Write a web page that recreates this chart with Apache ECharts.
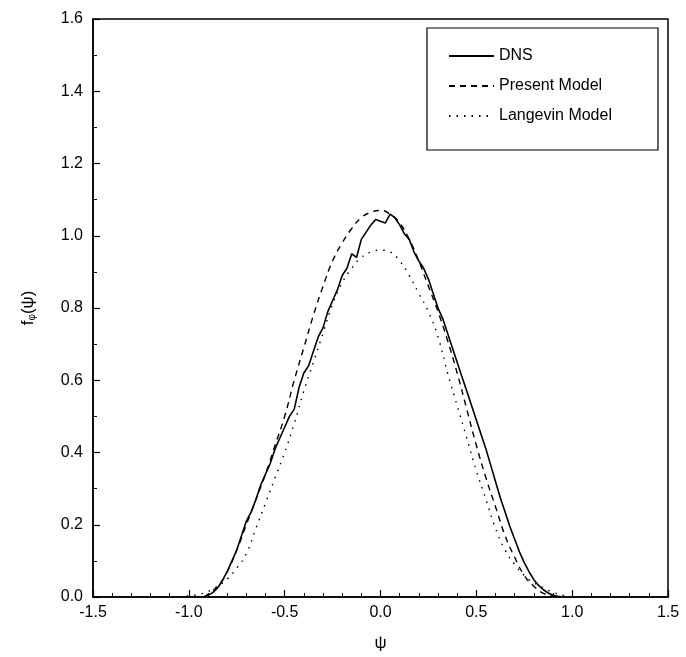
<!DOCTYPE html>
<html>
<head>
<meta charset="utf-8">
<script src="https://cdn.jsdelivr.net/npm/echarts@6/dist/echarts.min.js"></script>
<style>
  html, body { margin: 0; padding: 0; background: #fff; }
  #chart { width: 686px; height: 657px; }
</style>
</head>
<body>
<div id="chart"></div>
<script>
// DNS (solid)
var dnsPsi = [-0.925, -0.9, -0.875, -0.85, -0.825, -0.8, -0.775, -0.75, -0.725, -0.7,
    -0.675, -0.65, -0.625, -0.6, -0.575, -0.55, -0.525, -0.5, -0.475, -0.45,
    -0.425, -0.4, -0.375, -0.35, -0.325, -0.3, -0.275, -0.25, -0.225, -0.2,
    -0.175, -0.15, -0.125, -0.1, -0.075, -0.05, -0.025, 0, 0.025, 0.05,
    0.075, 0.1, 0.125, 0.15, 0.175, 0.2, 0.225, 0.25, 0.275, 0.3,
    0.325, 0.35, 0.375, 0.4, 0.425, 0.45, 0.475, 0.5, 0.525, 0.55,
    0.575, 0.6, 0.625, 0.65, 0.675, 0.7, 0.725, 0.75, 0.775, 0.8,
    0.825, 0.85, 0.875, 0.9, 0.925, 0.95];
var dnsF = [0, 0.005, 0.012, 0.025, 0.045, 0.07, 0.1, 0.13, 0.17, 0.21,
    0.235, 0.27, 0.31, 0.34, 0.37, 0.41, 0.44, 0.47, 0.5, 0.52,
    0.58, 0.62, 0.64, 0.68, 0.72, 0.745, 0.79, 0.82, 0.85, 0.89,
    0.91, 0.95, 0.94, 0.99, 1.01, 1.03, 1.045, 1.04, 1.035, 1.06,
    1.05, 1.03, 1.005, 0.99, 0.955, 0.93, 0.91, 0.88, 0.84, 0.8,
    0.77, 0.73, 0.69, 0.65, 0.61, 0.57, 0.53, 0.49, 0.45, 0.41,
    0.365, 0.32, 0.275, 0.235, 0.195, 0.16, 0.125, 0.095, 0.07, 0.048,
    0.032, 0.02, 0.011, 0.005, 0.002, 0];

// Present Model (dashed)
var presentPsi = [-0.92, -0.85, -0.8, -0.75, -0.7, -0.65, -0.6, -0.55, -0.5, -0.45,
    -0.4, -0.35, -0.3, -0.25, -0.2, -0.15, -0.1, -0.05, 0, 0.05,
    0.1, 0.15, 0.2, 0.25, 0.3, 0.35, 0.4, 0.45, 0.5, 0.55,
    0.6, 0.65, 0.7, 0.75, 0.8, 0.85, 0.9, 0.92];
var presentF = [0, 0.03, 0.07, 0.13, 0.2, 0.27, 0.34, 0.42, 0.5, 0.6,
    0.69, 0.78, 0.86, 0.93, 0.98, 1.02, 1.05, 1.065, 1.07, 1.06,
    1.035, 0.99, 0.93, 0.86, 0.79, 0.71, 0.62, 0.52, 0.42, 0.33,
    0.25, 0.17, 0.11, 0.06, 0.03, 0.01, 0.002, 0];

// Langevin Model (dotted)
var langevinPsi = [-1.05, -1.0, -0.95, -0.9, -0.85, -0.8, -0.75, -0.7, -0.65, -0.6,
    -0.55, -0.5, -0.45, -0.4, -0.35, -0.3, -0.25, -0.2, -0.15, -0.1,
    -0.05, 0, 0.05, 0.1, 0.15, 0.2, 0.25, 0.3, 0.35, 0.4,
    0.45, 0.5, 0.55, 0.6, 0.65, 0.7, 0.75, 0.8, 0.85, 0.9,
    0.95, 1.0];
var langevinF = [0, 0.003, 0.007, 0.015, 0.03, 0.05, 0.08, 0.12, 0.19, 0.26,
    0.33, 0.4, 0.48, 0.57, 0.65, 0.73, 0.81, 0.87, 0.91, 0.94,
    0.955, 0.96, 0.955, 0.93, 0.89, 0.84, 0.79, 0.72, 0.62, 0.53,
    0.44, 0.35, 0.27, 0.19, 0.13, 0.09, 0.06, 0.04, 0.025, 0.013,
    0.005, 0];

var seriesNames = ['DNS', 'Present Model', 'Langevin Model'];

function pairs(xs, ys) {
    return xs.map(function (x, i) { return [x, ys[i]]; });
}

var chart = echarts.init(document.getElementById('chart'));
var font = 'Liberation Sans, Arial, sans-serif';

option = {
    backgroundColor: '#fff',
    animation: false,
    textStyle: { fontFamily: font, color: '#000' },
    grid: {
        left: 93, right: 18, top: 19, bottom: 60,
        show: true, borderColor: '#000', borderWidth: 1.5
    },
    legend: {
        orient: 'vertical',
        left: 427, top: 28,
        padding: [20, 46, 26, 21],
        itemGap: 14,
        itemWidth: 45,
        itemHeight: 14,
        borderColor: '#000',
        borderWidth: 1.2,
        itemStyle: { opacity: 0 },
        textStyle: { fontSize: 16, fontFamily: font, color: '#000' },
        data: seriesNames
    },
    xAxis: {
        type: 'value',
        min: -1.5, max: 1.5, interval: 0.5,
        name: 'ψ',
        nameLocation: 'middle',
        nameGap: 38,
        nameTextStyle: { fontSize: 17, color: '#000' },
        axisLine: { onZero: false, lineStyle: { color: '#000', width: 1.5 } },
        axisTick: { inside: true, length: 7, lineStyle: { color: '#000', width: 1.2 } },
        minorTick: { show: true, splitNumber: 5, length: 4, lineStyle: { color: '#000', width: 1 } },
        axisLabel: { fontSize: 16, color: '#000', margin: 8, formatter: function (v) { return v.toFixed(1); } },
        splitLine: { show: false }
    },
    yAxis: {
        type: 'value',
        min: 0, max: 1.6, interval: 0.2,
        name: '{a|f}{b|φ}{a|(ψ)}',
        nameLocation: 'middle',
        nameGap: 56,
        nameRotate: 90,
        nameTextStyle: {
            color: '#000',
            rich: {
                a: { fontSize: 17, fontFamily: font, color: '#000' },
                b: { fontSize: 10, fontFamily: font, color: '#000', verticalAlign: 'bottom', padding: [8, 0, 0, 0] }
            }
        },
        axisLine: { onZero: false, lineStyle: { color: '#000', width: 1.5 } },
        axisTick: { inside: true, length: 7, lineStyle: { color: '#000', width: 1.2 } },
        minorTick: { show: true, splitNumber: 2, length: 4, lineStyle: { color: '#000', width: 1 } },
        axisLabel: { fontSize: 16, color: '#000', margin: 10, formatter: function (v) { return v.toFixed(1); } },
        splitLine: { show: false }
    },
    series: [
        {
            name: seriesNames[0],
            type: 'line',
            symbol: 'none',
            lineStyle: { color: '#000', width: 1.6, type: 'solid' },
            itemStyle: { color: '#000' },
            data: pairs(dnsPsi, dnsF)
        },
        {
            name: seriesNames[1],
            type: 'line',
            symbol: 'none',
            smooth: true,
            lineStyle: { color: '#000', width: 1.4, type: [6, 5] },
            itemStyle: { color: '#000' },
            data: pairs(presentPsi, presentF)
        },
        {
            name: seriesNames[2],
            type: 'line',
            symbol: 'none',
            smooth: true,
            lineStyle: { color: '#000', width: 1.4, type: [1.5, 6] },
            itemStyle: { color: '#000' },
            data: pairs(langevinPsi, langevinF)
        }
    ]
};

chart.setOption(option);
</script>
</body>
</html>
